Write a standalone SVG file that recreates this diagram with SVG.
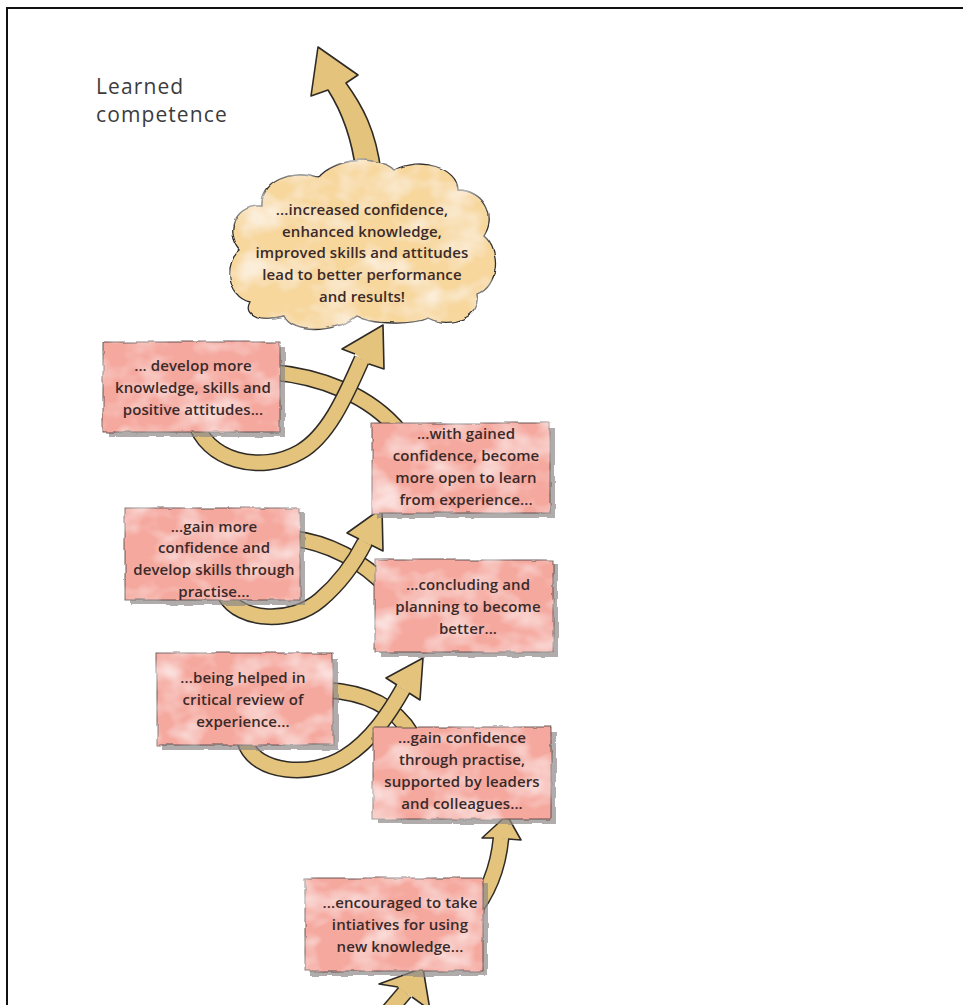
<svg xmlns="http://www.w3.org/2000/svg" width="963" height="1005" viewBox="0 0 963 1005">
<defs>
<style>
.title{font-family:"Open Sans","Noto Sans",sans-serif;font-size:21px;fill:#3c3c3c;letter-spacing:1.1px}
.t{font-family:"Open Sans","Noto Sans",sans-serif;font-size:15px;font-weight:600;fill:#3a2a2a;text-anchor:middle;letter-spacing:0.1px}
.bo{fill:none;stroke:#2e2a26;stroke-width:17}
.bf{fill:none;stroke:#e4c47c;stroke-width:14}
.hd{fill:#e4c47c;stroke:#2e2a26;stroke-width:1.6;stroke-linejoin:round}
.sh{fill:#8f8a88;opacity:0.7}
.bx{fill:#f5a89e;stroke:#5a4848;stroke-width:0.9}
.cl{fill:#f7d79c;stroke:#2e2e2e;stroke-width:1.3}
</style>
<filter id="rough" x="-6%" y="-8%" width="112%" height="116%">
<feTurbulence type="fractalNoise" baseFrequency="0.06" numOctaves="2" seed="2" result="t"/>
<feDisplacementMap in="SourceGraphic" in2="t" scale="4" xChannelSelector="R" yChannelSelector="G"/>
</filter>
<filter id="wash" x="-6%" y="-8%" width="112%" height="116%">
<feTurbulence type="fractalNoise" baseFrequency="0.06" numOctaves="2" seed="4" result="t"/>
<feDisplacementMap in="SourceGraphic" in2="t" scale="4" xChannelSelector="R" yChannelSelector="G" result="d"/>
<feTurbulence type="fractalNoise" baseFrequency="0.025 0.035" numOctaves="3" seed="7" result="n"/>
<feColorMatrix in="n" type="matrix" values="0 0 0 0 1  0 0 0 0 1  0 0 0 0 1  0 0 0 1.3 -0.55" result="w"/>
<feComposite in="w" in2="d" operator="in" result="wm"/>
<feMerge><feMergeNode in="d"/><feMergeNode in="wm"/></feMerge>
</filter>
</defs>
<rect x="7" y="8" width="970" height="1010" fill="#ffffff" stroke="#111111" stroke-width="2"/>
<g id="title">
<text class="title" x="96" y="94">Learned</text>
<text class="title" x="96" y="122">competence</text>
</g>
<g id="connectors">
<path class="hd" d="M318,47 L358,75 L346,83 C362,105 376,130 381,172 L356,172 C352,140 342,112 328,90 L311,96 Z"/>
<path class="bo" d="M270,372 C320,376 370,395 400,432"/>
<path class="bf" d="M270,372 C320,376 370,395 400,432"/>
<path class="bo" d="M195,420 C205,460 260,475 300,452 C330,435 348,390 362,359"/>
<path class="bf" d="M195,420 C205,460 260,475 300,452 C330,435 348,390 362,359"/>
<path class="hd" d="M355,354 L342,349 L383,325 L384,369 L369,364"/>
<path class="bo" d="M290,538 C325,542 360,558 390,590"/>
<path class="bf" d="M290,538 C325,542 360,558 390,590"/>
<path class="bo" d="M225,595 C240,622 292,624 320,600 C340,583 355,562 365,542"/>
<path class="bf" d="M225,595 C240,622 292,624 320,600 C340,583 355,562 365,542"/>
<path class="hd" d="M359,539 L347,533 L382,508 L383,551 L371,545"/>
<path class="bo" d="M325,690 C365,692 395,706 412,735"/>
<path class="bf" d="M325,690 C365,692 395,706 412,735"/>
<path class="bo" d="M245,742 C255,774 312,778 345,757 C372,740 390,712 403,689"/>
<path class="bf" d="M245,742 C255,774 312,778 345,757 C372,740 390,712 403,689"/>
<path class="hd" d="M397,685 L386,678 L423,658 L420,700 L409,693"/>
<path class="bo" d="M470,915 C487,895 498,870 501,838"/>
<path class="bf" d="M470,915 C487,895 498,870 501,838"/>
<path class="hd" d="M494,838 L482,838 L507,815 L521,840 L508,839"/>
<path class="bo" d="M388,1012 L405,992"/>
<path class="bf" d="M388,1012 L405,992"/>
<path class="hd" d="M398,987 L379,984 L423,968 L430,1010 L412,997"/>
</g>
<g id="cloud">
<path class="cl" filter="url(#wash)" d="M250,302 C226,296 224,262 240,250 C224,230 236,204 262,206 C260,182 292,168 318,178 C334,158 378,154 394,170 C420,156 458,168 458,190 C482,190 498,214 484,236 C502,252 498,286 478,294 C482,316 452,330 428,318 C412,325 372,325 356,316 C332,334 292,334 284,316 C262,322 242,316 250,302 Z"/>
<text class="t" x="362" y="215">...increased confidence,</text>
<text class="t" x="362" y="237">enhanced knowledge,</text>
<text class="t" x="362" y="258">improved skills and attitudes</text>
<text class="t" x="362" y="280">lead to better performance</text>
<text class="t" x="362" y="302">and results!</text>
</g>
<g id="n-develop">
<rect class="sh" filter="url(#rough)" x="108" y="347" width="177" height="90"/>
<rect class="bx" filter="url(#wash)" x="103" y="342" width="177" height="90"/>
<text class="t" x="193" y="371">... develop more</text>
<text class="t" x="193" y="393">knowledge, skills and</text>
<text class="t" x="193" y="415">positive attitudes...</text>
</g>
<g id="n-gained">
<rect class="sh" filter="url(#rough)" x="377" y="428" width="178" height="90"/>
<rect class="bx" filter="url(#wash)" x="372" y="423" width="178" height="90"/>
<text class="t" x="466" y="439">...with gained</text>
<text class="t" x="466" y="461">confidence, become</text>
<text class="t" x="466" y="483">more open to learn</text>
<text class="t" x="466" y="505">from experience...</text>
</g>
<g id="n-practise">
<rect class="sh" filter="url(#rough)" x="130" y="513" width="175" height="92"/>
<rect class="bx" filter="url(#wash)" x="125" y="508" width="175" height="92"/>
<text class="t" x="214" y="532">...gain more</text>
<text class="t" x="214" y="553">confidence and</text>
<text class="t" x="214" y="575">develop skills through</text>
<text class="t" x="214" y="597">practise...</text>
</g>
<g id="n-concluding">
<rect class="sh" filter="url(#rough)" x="380" y="565" width="178" height="92"/>
<rect class="bx" filter="url(#wash)" x="375" y="560" width="178" height="92"/>
<text class="t" x="468" y="590">...concluding and</text>
<text class="t" x="468" y="612">planning to become</text>
<text class="t" x="468" y="634">better...</text>
</g>
<g id="n-review">
<rect class="sh" filter="url(#rough)" x="162" y="658" width="176" height="92"/>
<rect class="bx" filter="url(#wash)" x="157" y="653" width="176" height="92"/>
<text class="t" x="243" y="683">...being helped in</text>
<text class="t" x="243" y="705">critical review of</text>
<text class="t" x="243" y="727">experience...</text>
</g>
<g id="n-support">
<rect class="sh" filter="url(#rough)" x="378" y="732" width="178" height="92"/>
<rect class="bx" filter="url(#wash)" x="373" y="727" width="178" height="92"/>
<text class="t" x="462" y="743">...gain confidence</text>
<text class="t" x="462" y="765">through practise,</text>
<text class="t" x="462" y="787">supported by leaders</text>
<text class="t" x="462" y="809">and colleagues...</text>
</g>
<g id="n-encouraged">
<rect class="sh" filter="url(#rough)" x="310" y="883" width="178" height="93"/>
<rect class="bx" filter="url(#wash)" x="305" y="878" width="178" height="93"/>
<text class="t" x="400" y="908">...encouraged to take</text>
<text class="t" x="400" y="930">intiatives for using</text>
<text class="t" x="400" y="952">new knowledge...</text>
</g>
</svg>
